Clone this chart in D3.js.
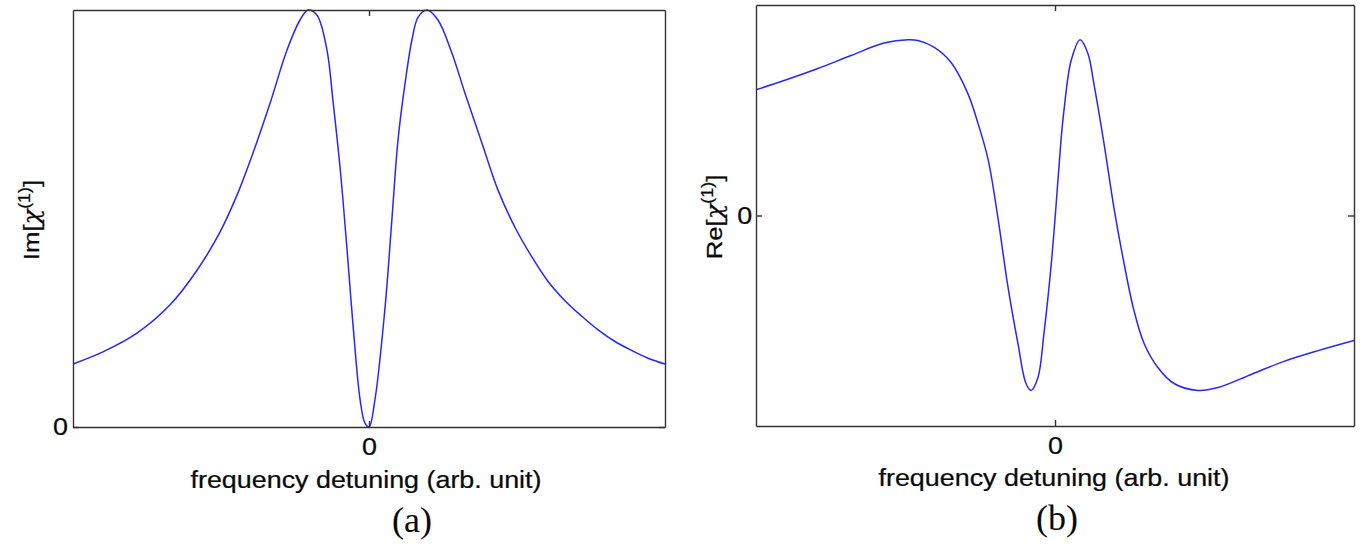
<!DOCTYPE html>
<html>
<head>
<meta charset="utf-8">
<script src="https://cdn.jsdelivr.net/npm/d3@7"></script>
<style>
  html, body { margin: 0; padding: 0; background: #fff; }
  svg { display: block; }
  text { font-family: "Liberation Sans", Arial, Helvetica, sans-serif; fill: #0a0a0a; }
  .panel-tag { font-family: "Liberation Serif", "Times New Roman", serif; }
</style>
</head>
<body>
<svg id="fig" width="1360" height="545"></svg>
<script>
// Detuning axis (arb. unit) for the absorption panel
const detuningIm = [-1.000, -0.899, -0.784, -0.672, -0.581, -0.503, -0.446, -0.392, -0.334, -0.277,
                    -0.233, -0.206, -0.176, -0.142, -0.122, -0.098, -0.074, -0.054, -0.030, -0.014,
                     0.000,  0.020,  0.054,  0.078,  0.098,  0.122,  0.145,  0.166,  0.196,  0.233,
                     0.280,  0.324,  0.382,  0.436,  0.493,  0.551,  0.605,  0.662,  0.720,  0.774,
                     0.831,  0.889,  0.943,  1.000];
// Absorptive part Im[chi(1)], normalised to its peak
const imChi = [0.151, 0.180, 0.225, 0.293, 0.376, 0.468, 0.556, 0.657, 0.777, 0.904,
               0.976, 1.000, 0.988, 0.904, 0.784, 0.624, 0.424, 0.245, 0.065, 0.010,
               0.000, 0.065, 0.285, 0.504, 0.688, 0.825, 0.928, 0.983, 1.000, 0.976,
               0.897, 0.801, 0.680, 0.568, 0.479, 0.407, 0.349, 0.303, 0.265, 0.233,
               0.205, 0.183, 0.165, 0.151];

// Detuning axis (arb. unit) for the dispersion panel
const detuningRe = [-1.000, -0.906, -0.793, -0.682, -0.572, -0.492, -0.458, -0.405, -0.348, -0.291,
                    -0.258, -0.224, -0.191, -0.157, -0.124, -0.097, -0.080, -0.057, -0.037, -0.013,
                     0.003,  0.020,  0.030,  0.054,  0.084,  0.110,  0.130,  0.164,  0.197,  0.231,
                     0.264,  0.298,  0.344,  0.398,  0.478,  0.545,  0.656,  0.766,  0.880,  1.000];
// Dispersive part Re[chi(1)], normalised
const reChi = [0.597, 0.641, 0.698, 0.760, 0.819, 0.835, 0.831, 0.800, 0.728, 0.578,
               0.440, 0.268, -0.010, -0.342, -0.608, -0.798, -0.831, -0.770, -0.561, -0.238,
               0.038, 0.356, 0.499, 0.736, 0.835, 0.770, 0.627, 0.342, 0.038, -0.228,
               -0.451, -0.608, -0.722, -0.798, -0.831, -0.817, -0.755, -0.693, -0.642, -0.594];

const xTickValues = [0];
const yTickValues = [0];
const tickLabel = "0";
const xAxisTitle = "frequency detuning (arb. unit)";

const svg = d3.select("#fig");
const STRETCH = 1.12;   // horizontal widening of the sans-serif lettering
const INK = "#333";
const CURVE = "#2626ff";
const SANS = "Liberation Sans, Arial, sans-serif";

function drawPanel(cfg) {
  const { left, right, top, bottom, xs, ys, yDomain, yLabelMain, yLabelX, yLabelY,
          tag, tagX, tagY, titleX, titleY, yTickPad } = cfg;
  const x = d3.scaleLinear().domain([-1, 1]).range([left, right]);
  const y = d3.scaleLinear().domain(yDomain).range([bottom, top]);
  const g = svg.append("g");

  // Curve
  const pts = xs.map((d, i) => [d, ys[i]]);
  g.append("path")
    .datum(pts)
    .attr("fill", "none")
    .attr("stroke", CURVE)
    .attr("stroke-width", 1.5)
    .attr("stroke-linejoin", "round")
    .attr("d", d3.line().x(d => x(d[0])).y(d => y(d[1])).curve(d3.curveCatmullRom.alpha(0.5)));

  // Axes with inward ticks
  const styleAxis = sel => {
    sel.select(".domain").attr("stroke", INK).attr("stroke-width", 1.4);
    sel.selectAll(".tick line").attr("stroke", INK).attr("stroke-width", 1.4);
  };
  const styleLabels = sel => sel.selectAll(".tick text")
    .attr("font-size", 24).attr("fill", "#0a0a0a")
    .attr("font-family", SANS)
    .attr("stroke", "#0a0a0a").attr("stroke-width", 0.25)
    .attr("transform", `scale(${STRETCH},1)`);

  g.append("g").attr("transform", `translate(0,${bottom})`)
    .call(d3.axisBottom(x).tickValues(xTickValues).tickFormat(() => tickLabel)
      .tickSizeInner(-6).tickSizeOuter(0).tickPadding(11))
    .call(styleAxis).call(styleLabels);

  g.append("g").attr("transform", `translate(0,${top})`)
    .call(d3.axisTop(x).tickValues(xTickValues).tickFormat("")
      .tickSizeInner(-6).tickSizeOuter(0))
    .call(styleAxis);

  g.append("g").attr("transform", `translate(${left},0)`)
    .call(d3.axisLeft(y).tickValues(yTickValues).tickFormat(() => tickLabel)
      .tickSizeInner(-6).tickSizeOuter(0).tickPadding(yTickPad))
    .call(styleAxis).call(styleLabels);

  g.append("g").attr("transform", `translate(${right},0)`)
    .call(d3.axisRight(y).tickValues(yTickValues).tickFormat("")
      .tickSizeInner(-6).tickSizeOuter(0))
    .call(styleAxis);

  // x-axis title
  g.append("text")
    .attr("transform", `translate(${titleX},${titleY}) scale(${STRETCH},1)`)
    .attr("text-anchor", "middle")
    .attr("font-size", 24)
    .attr("stroke", "#0a0a0a").attr("stroke-width", 0.25)
    .text(xAxisTitle);

  // y-axis title: Im[χ^(1)] / Re[χ^(1)]
  const yt = g.append("text")
    .attr("transform", `translate(${yLabelX},${yLabelY}) rotate(-90) scale(${STRETCH},1)`)
    .attr("text-anchor", "middle")
    .attr("font-size", 23)
    .attr("stroke", "#0a0a0a").attr("stroke-width", 0.25);
  yt.append("tspan").text(yLabelMain + "[");
  yt.append("tspan")
    .attr("font-family", "DejaVu Serif, serif")
    .attr("font-style", "italic")
    .attr("font-size", 23)
    .text("\u03C7");
  yt.append("tspan").attr("font-size", 16).attr("dy", -9).text("(1)");
  yt.append("tspan").attr("dy", 9).text("]");

  // panel tag
  g.append("text")
    .attr("class", "panel-tag")
    .attr("x", tagX).attr("y", tagY)
    .attr("text-anchor", "middle")
    .attr("font-size", 36)
    .text(tag);
}

drawPanel({
  left: 73, right: 665, top: 10, bottom: 427,
  xs: detuningIm, ys: imChi, yDomain: [0, 1],
  yLabelMain: "Im", yLabelX: 39, yLabelY: 220,
  tag: "(a)", tagX: 412, tagY: 532,
  titleX: 366, titleY: 488, yTickPad: 4.5
});

drawPanel({
  left: 756, right: 1354, top: 5, bottom: 426,
  xs: detuningRe, ys: reChi, yDomain: [-1, 1],
  yLabelMain: "Re", yLabelX: 722, yLabelY: 217,
  tag: "(b)", tagX: 1057, tagY: 530,
  titleX: 1054, titleY: 486, yTickPad: 3.5
});
</script>
</body>
</html>
